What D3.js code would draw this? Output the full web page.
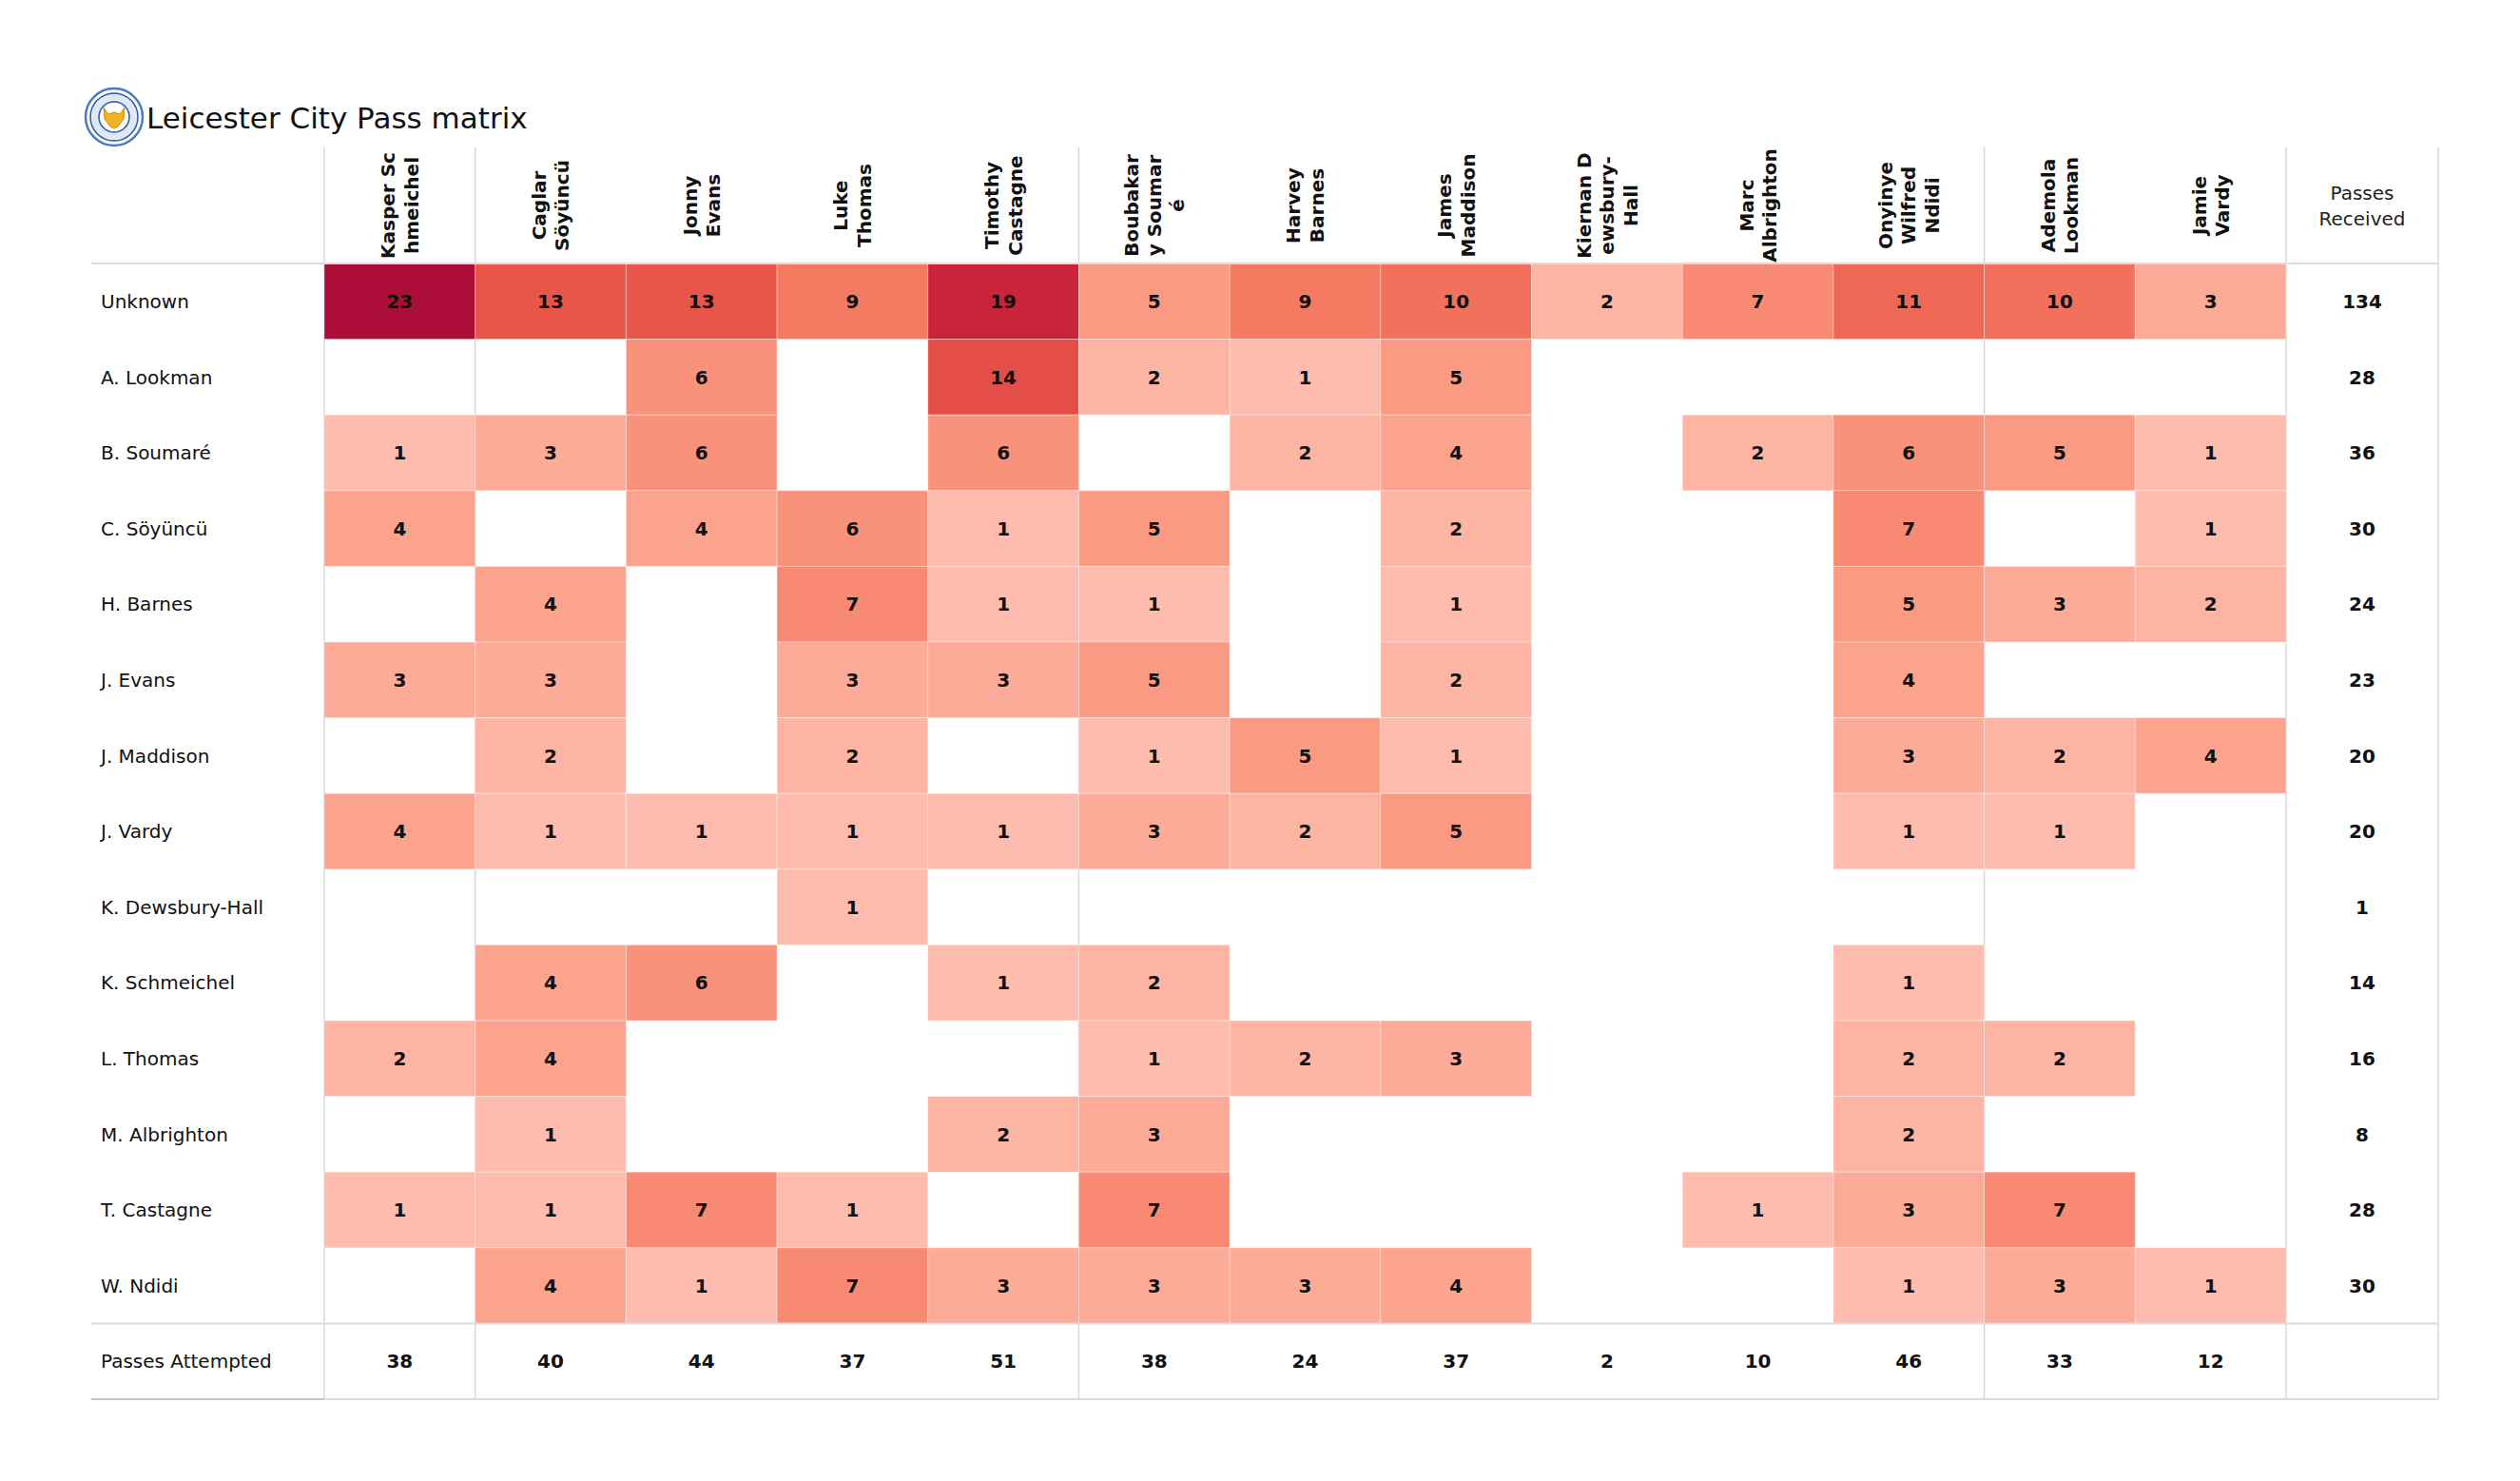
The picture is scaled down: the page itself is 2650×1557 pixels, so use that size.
<!DOCTYPE html>
<html><head><meta charset="utf-8">
<script src="https://cdn.jsdelivr.net/npm/d3@7/dist/d3.min.js"></script>
<style>html,body{margin:0;padding:0;background:#fff;}svg{display:block;}</style>
</head><body>
<svg id="chart" width="2650" height="1557"></svg>
<script>
const title = "Leicester City Pass matrix";
const receivers = ["Kasper Schmeichel","Caglar Söyüncü","Jonny Evans","Luke Thomas","Timothy Castagne","Boubakary Soumaré","Harvey Barnes","James Maddison","Kiernan Dewsbury-Hall","Marc Albrighton","Onyinye Wilfred Ndidi","Ademola Lookman","Jamie Vardy"];
const headerLines = [["Kasper Sc","hmeichel"],["Caglar","Söyüncü"],["Jonny","Evans"],["Luke","Thomas"],["Timothy","Castagne"],["Boubakar","y Soumar","é"],["Harvey","Barnes"],["James","Maddison"],["Kiernan D","ewsbury-","Hall"],["Marc","Albrighton"],["Onyinye","Wilfred","Ndidi"],["Ademola","Lookman"],["Jamie","Vardy"]];
const passers = ["Unknown","A. Lookman","B. Soumaré","C. Söyüncü","H. Barnes","J. Evans","J. Maddison","J. Vardy","K. Dewsbury-Hall","K. Schmeichel","L. Thomas","M. Albrighton","T. Castagne","W. Ndidi"];
const _ = null;
const matrix = [
  [23,13,13,9,19,5,9,10,2,7,11,10,3],
  [_,_,6,_,14,2,1,5,_,_,_,_,_],
  [1,3,6,_,6,_,2,4,_,2,6,5,1],
  [4,_,4,6,1,5,_,2,_,_,7,_,1],
  [_,4,_,7,1,1,_,1,_,_,5,3,2],
  [3,3,_,3,3,5,_,2,_,_,4,_,_],
  [_,2,_,2,_,1,5,1,_,_,3,2,4],
  [4,1,1,1,1,3,2,5,_,_,1,1,_],
  [_,_,_,1,_,_,_,_,_,_,_,_,_],
  [_,4,6,_,1,2,_,_,_,_,1,_,_],
  [2,4,_,_,_,1,2,3,_,_,2,2,_],
  [_,1,_,_,2,3,_,_,_,_,2,_,_],
  [1,1,7,1,_,7,_,_,_,1,3,7,_],
  [_,4,1,7,3,3,3,4,_,_,1,3,1]
];
const passesReceived = [134,28,36,30,24,23,20,20,1,14,16,8,28,30];
const passesAttempted = [38,40,44,37,51,38,24,37,2,10,46,33,12];
const footerLabel = "Passes Attempted";
const totalHeader = ["Passes","Received"];

const svg = d3.select("#chart");
const F = "DejaVu Sans, Verdana, sans-serif";

const left = 96, labelRight = 341, gridRight = 2404, right = 2564;
const headerTop = 155, headerBottom = 277, bottom = 1471;
const rowNames = passers.concat([footerLabel]);

const x = d3.scaleBand().domain(d3.range(receivers.length)).range([labelRight, gridRight]);
const y = d3.scaleBand().domain(rowNames).range([headerBottom, bottom]);
const color = d3.scaleLinear()
  .domain([1,5,9,13,19,23])
  .range(["#fdbcad","#fb9a83","#f47a62","#e8564a","#ca243b","#ab0f38"])
  .interpolate(d3.interpolateRgb);

// grid lines (behind cells)
const lineCol = "#d9d9d9";
const vBounds = [labelRight, x(1), x(5), x(11), gridRight, right];
svg.append("g").selectAll("line").data(vBounds).join("line")
  .attr("x1", d => d).attr("x2", d => d)
  .attr("y1", headerTop).attr("y2", bottom)
  .attr("stroke", lineCol).attr("stroke-width", 1.5);

// cells
const cells = [];
matrix.forEach((row, r) => row.forEach((v, c) => { if (v != null) cells.push({r, c, v}); }));
svg.append("g").selectAll("rect").data(cells).join("rect")
  .attr("x", d => x(d.c)).attr("y", d => y(passers[d.r]))
  .attr("width", x.bandwidth()).attr("height", y.bandwidth())
  .attr("fill", d => color(d.v))
  .attr("stroke", "rgba(255,255,255,0.35)").attr("stroke-width", 1);

svg.append("g").selectAll("text").data(cells).join("text")
  .attr("x", d => x(d.c) + x.bandwidth()/2)
  .attr("y", d => y(passers[d.r]) + y.bandwidth()/2)
  .attr("dy", "0.36em").attr("text-anchor", "middle")
  .attr("font-family", F).attr("font-weight", "bold").attr("font-size", 20)
  .attr("fill", "#111").text(d => d.v);

// horizontal lines
const hl = svg.append("g");
[[headerBottom, "#dcdcdc"], [y(footerLabel), "#dcdcdc"], [bottom, "#dcdcdc"]].forEach(([yy, col]) => {
  hl.append("line").attr("x1", left).attr("x2", right).attr("y1", yy).attr("y2", yy)
    .attr("stroke", col).attr("stroke-width", 2);
});
hl.append("line").attr("x1", left).attr("x2", labelRight).attr("y1", bottom).attr("y2", bottom)
  .attr("stroke", "#c4c4c4").attr("stroke-width", 2);

// row labels
svg.append("g").selectAll("text").data(rowNames).join("text")
  .attr("x", 106).attr("y", d => y(d) + y.bandwidth()/2).attr("dy", "0.36em")
  .attr("font-family", F).attr("font-size", 20).attr("fill", "#111").text(d => d);

// passes received
svg.append("g").selectAll("text").data(passesReceived).join("text")
  .attr("x", (gridRight + right)/2).attr("y", (d, i) => y(passers[i]) + y.bandwidth()/2)
  .attr("dy", "0.36em").attr("text-anchor", "middle")
  .attr("font-family", F).attr("font-weight", "bold").attr("font-size", 20).attr("fill", "#111").text(d => d);

// passes attempted
svg.append("g").selectAll("text").data(passesAttempted).join("text")
  .attr("x", (d, i) => x(i) + x.bandwidth()/2).attr("y", y(footerLabel) + y.bandwidth()/2)
  .attr("dy", "0.36em").attr("text-anchor", "middle")
  .attr("font-family", F).attr("font-weight", "bold").attr("font-size", 20).attr("fill", "#111").text(d => d);

// column headers (rotated)
const hMid = (headerTop + headerBottom)/2;
const hg = svg.append("g").selectAll("g").data(headerLines).join("g")
  .attr("transform", (d, i) => `translate(${x(i) + x.bandwidth()/2},${hMid}) rotate(-90)`);
hg.each(function(lines) {
  const g = d3.select(this);
  const lh = 24.5;
  lines.forEach((t, k) => {
    g.append("text").attr("x", 0).attr("y", (k - (lines.length - 1)/2) * lh).attr("dy", "0.36em")
      .attr("text-anchor", "middle").attr("font-family", F).attr("font-weight", "bold")
      .attr("font-size", 20).attr("fill", "#111").text(t);
  });
});

// total header
totalHeader.forEach((t, k) => {
  svg.append("text").attr("x", (gridRight + right)/2).attr("y", hMid + (k - 0.5) * 27).attr("dy", "0.36em")
    .attr("text-anchor", "middle").attr("font-family", F).attr("font-size", 20).attr("fill", "#222").text(t);
});

// title
svg.append("text").attr("x", 154).attr("y", 135).attr("font-family", F).attr("font-size", 31)
  .attr("fill", "#111").text(title);

// crest
const crest = svg.append("g").attr("transform", "translate(120,123)");
crest.append("circle").attr("r", 30).attr("fill", "#fff").attr("stroke", "#4a7bbd").attr("stroke-width", 2.5);
crest.append("circle").attr("r", 25).attr("fill", "#dfe9f5").attr("stroke", "#2a5aa5").attr("stroke-width", 1.5);
crest.append("circle").attr("r", 16).attr("fill", "#fff").attr("stroke", "#2a5aa5").attr("stroke-width", 1.5);
crest.append("path").attr("d", "M-11,-10 L-6,-3 L0,-5 L6,-3 L11,-10 L10,2 L4,10 L0,12 L-4,10 L-10,2 Z")
  .attr("fill", "#f0b323").attr("stroke", "#d08a10").attr("stroke-width", 1);
</script>
</body></html>
